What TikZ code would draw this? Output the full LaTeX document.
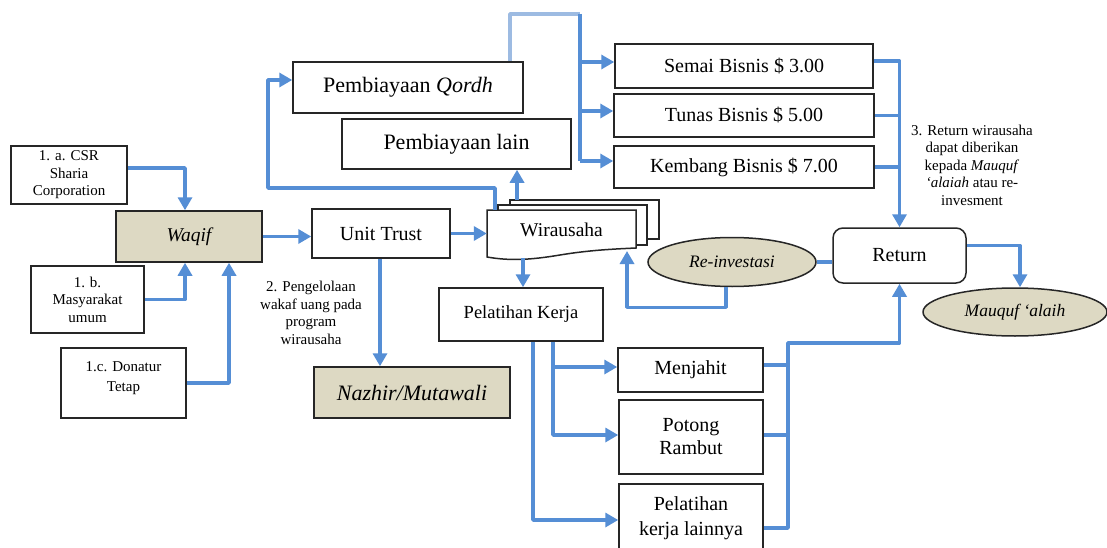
\documentclass[tikz,border=0pt]{standalone}
\usepackage{fontspec}
\setmainfont{Liberation Serif}
\usetikzlibrary{arrows.meta,shapes.geometric}
\definecolor{lblue}{HTML}{558ED5}
\definecolor{llblue}{HTML}{9DBBE2}
\definecolor{beige}{RGB}{221,217,195}
\begin{document}
\begin{tikzpicture}[x=1pt,y=-1pt,
  box/.style={draw=black!85, line width=1.5pt, fill=white, inner sep=0pt, align=center, text=black},
  f20/.style={font=\fontsize{20}{23}\selectfont},
  f22/.style={font=\fontsize{22}{24}\selectfont},
  small/.style={font=\fontsize{15}{17.5}\selectfont},
  conn/.style={draw=lblue, line width=3.5pt, line join=round},
  arr/.style={conn, -{Triangle[length=13pt,width=14pt]}},
]
\useasboundingbox (0,0) rectangle (1107,548);
\fill[white] (0,0) rectangle (1107,548);

% nodes
\node[box,small,minimum width=116pt,minimum height=58pt] (csr) at (69,175) {1. a. CSR\\Sharia\\Corporation};
\node[box,fill=beige,minimum width=146pt,minimum height=51pt,font=\fontsize{19.5}{22}\selectfont\itshape] (waqif) at (189,236.5) {Waqif};
\node[box,small,minimum width=113pt,minimum height=67pt] (masy) at (87.5,299.5) {1. b.\\Masyarakat\\umum};
\node[box,minimum width=125pt,minimum height=70pt] (don) at (123.5,383) {};
\node[small,align=center,inner sep=0pt,font=\fontsize{15}{20}\selectfont] (dontext) at (123.5,378) {1.c. Donatur\\Tetap};
\node[box,f20,minimum width=138pt,minimum height=49pt] (unit) at (381,233.5) {Unit Trust};
\node[box,f22,minimum width=230pt,minimum height=51pt] (qordh) at (408,87.5) {Pembiayaan \textit{Qordh}};
\node[box,f22,minimum width=229pt,minimum height=50pt] (lain) at (456.5,144) {Pembiayaan lain};
\node[box,f20,minimum width=258pt,minimum height=44pt] (semai) at (744,66) {Semai Bisnis \$ 3.00};
\node[box,f20,minimum width=260pt,minimum height=43pt] (tunas) at (744,115.5) {Tunas Bisnis \$ 5.00};
\node[box,f20,minimum width=260pt,minimum height=42pt] (kemb) at (744,167) {Kembang Bisnis \$ 7.00};
\node[box,f20,rounded corners=10pt,minimum width=133pt,minimum height=55pt] (ret) at (899.5,255.5) {Return};
\node[box,ellipse,fill=beige,font=\fontsize{17.5}{20}\selectfont\itshape,minimum width=168pt,minimum height=49pt] (reinv) at (732,262) {Re-investasi};
\node[box,ellipse,fill=beige,font=\fontsize{17.5}{20}\selectfont\itshape,minimum width=184pt,minimum height=48pt] (mauq) at (1015,312) {Mauquf ‘alaih};
\node[box,font=\fontsize{18.5}{21}\selectfont,minimum width=164pt,minimum height=53pt] (pk) at (521,314.5) {Pelatihan Kerja};
\node[box,fill=beige,font=\fontsize{22}{24}\selectfont\itshape,minimum width=196pt,minimum height=51pt] (naz) at (412,392.5) {Nazhir/Mutawali};
\node[box,f20,minimum width=145pt,minimum height=44pt] (menj) at (690.5,370) {Menjahit};
\node[box,f20,minimum width=144pt,minimum height=74pt] (pot) at (691,437) {Potong\\Rambut};
\node[box,font=\fontsize{20}{25}\selectfont,minimum width=144pt,minimum height=68pt] (lainya) at (691,518) {Pelatihan\\kerja lainnya};

% Wirausaha document stack
\draw[line width=1.5pt,draw=black!85,fill=white] (510,200) rectangle (659,239);
\draw[line width=1.5pt,draw=black!85,fill=white] (498,205) rectangle (647,245);
\draw[line width=1.5pt,draw=black!85,fill=white] (487,210) -- (636,210) -- (636,248)
  .. controls (615,249) and (590,250) .. (560,255)
  .. controls (530,260) and (510,261) .. (487,257) -- cycle;
\node[inner sep=0pt,font=\fontsize{19.5}{22}\selectfont,minimum width=149pt,minimum height=38pt] (wira) at (561.5,230) {Wirausaha};

% notes
\node[small,align=center,inner sep=0pt] (note2) at (311,313) {2. Pengelolaan\\wakaf uang pada\\program\\wirausaha};
\node[small,align=center,inner sep=0pt] (note3) at (972,165) {3. Return wirausaha\\dapat diberikan\\kepada \textit{Mauquf}\\\textit{‘alaiah} atau re-\\invesment};

% helper coordinates
\coordinate (wq) at (495,210);
\coordinate (wl) at (517,200);
\coordinate (wb) at (523,258);
\coordinate (wr) at (627,251);
\coordinate (lbus) at (580,14);
\coordinate (rbus) at (788,343);

% connectors
\draw[arr] ([yshift=7pt]csr.east) -| ([xshift=-4pt]waqif.north);
\draw[arr] (masy.east) -| ([xshift=-4pt]waqif.south);
\draw[arr] (don.east) -| ([xshift=40pt]waqif.south);
\draw[arr] (waqif.east) -- (waqif.east -| unit.west);
\draw[arr] (unit.east) -- (unit.east -| wira.west);
\draw[arr] ([xshift=-1pt]unit.south) -- ([xshift=-1pt]unit.south |- naz.north);
\draw[arr] (wq) |- (268,188) |- ([yshift=7.5pt]qordh.west);
\draw[arr] (wl) -- (wl |- lain.south);
\draw[conn,draw=llblue] ([xshift=102pt]qordh.north) |- (lbus);
\draw[conn] (lbus) -- ([yshift=6pt]kemb.west -| lbus);
\draw[arr] ([yshift=4pt]semai.west -| lbus) -- ([yshift=4pt]semai.west);
\draw[arr] ([yshift=4.5pt]tunas.west -| lbus) -- ([yshift=4.5pt]tunas.west);
\draw[arr] ([yshift=6pt]kemb.west -| lbus) -- ([yshift=6pt]kemb.west);
\draw[arr] ([yshift=5pt]semai.east) -| (ret.north);
\draw[conn] (tunas.east) -- (tunas.east -| ret.north);
\draw[conn] (kemb.east) -- (kemb.east -| ret.north);
\draw[conn] (reinv.east) -- (reinv.east -| ret.west);
\draw[arr] ([xshift=-6pt]reinv.south) -- ++(0,20) -| (wr);
\draw[arr] ([yshift=10pt]ret.east) -| ([xshift=5pt]mauq.north);
\draw[arr] (wb) -- (wb |- pk.north);
\draw[arr] ([xshift=32pt]pk.south) |- ([yshift=3pt]menj.west);
\draw[arr] ([xshift=32pt]pk.south) |- ([yshift=2pt]pot.west);
\draw[arr] ([xshift=12pt]pk.south) |- ([yshift=-2pt]lainya.west);
\draw[conn] ([yshift=5pt]menj.east) -- ([yshift=5pt]menj.east -| rbus);
\draw[conn] ([yshift=2pt]pot.east) -- ([yshift=2pt]pot.east -| rbus);
\draw[arr] ([yshift=-10pt]lainya.east) -| (rbus) -| (ret.south);
\end{tikzpicture}
\end{document}
